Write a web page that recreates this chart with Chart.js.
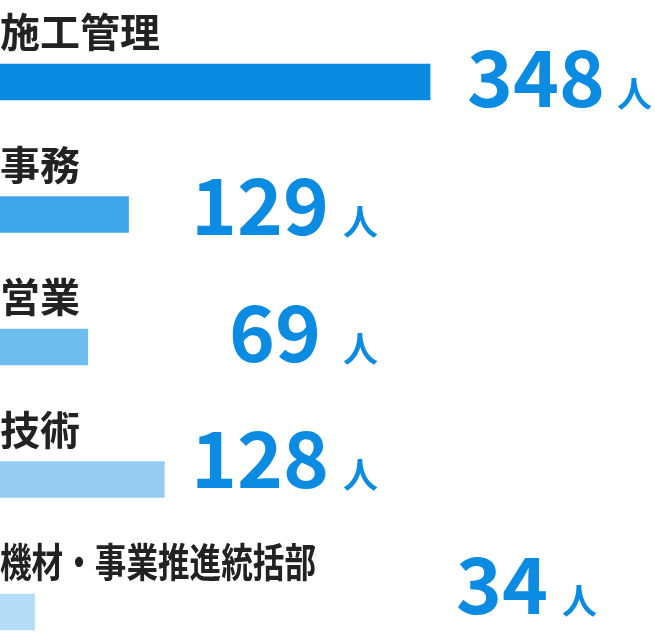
<!DOCTYPE html>
<html>
<head>
<meta charset="utf-8">
<script src="https://cdn.jsdelivr.net/npm/chart.js@4/dist/chart.umd.min.js"></script>
<style>
  html, body { margin: 0; padding: 0; background: #fff; }
  #wrap { position: relative; width: 655px; height: 640px; }
</style>
</head>
<body>
<div id="wrap"><canvas id="barChart"></canvas></div>
<script>
// DATA
const departments = ["施工管理", "事務", "営業", "技術", "機材・事業推進統括部"];
const headcount = [348, 129, 69, 128, 34];
// bar lengths as drawn in the picture (same units as headcount, not strictly proportional)
const barLength = [348, 104, 71, 133, 28];

// STYLE
const barColors = ["#0a8ae0", "#3fa6ea", "#6fbcef", "#96ccf1", "#b4dcf6"];
const numColor = "#0b8ce2";
const labelColor = "#222222";
const fontFamily = '"Noto Sans CJK JP", "Noto Sans", sans-serif';
// where the "人" ends (right edge) and vertical offset of the number from bar centre
const unitRight = [652, 378, 378, 378, 597];
const numGap = [12, 14, 22, 14, 14];
const numOffset = [25, 20, 15, 8, 2];

// LABELS PLUGIN
const labelPlugin = {
    id: "rowLabels",
    afterDatasetsDraw(chart) {
        const ctx = chart.ctx;
        const meta = chart.getDatasetMeta(0);
        ctx.save();
        meta.data.forEach((bar, i) => {
            const top = bar.y - bar.height / 2;

            // category name above the bar
            ctx.font = "bold 40px " + fontFamily;
            ctx.fillStyle = labelColor;
            ctx.textAlign = "left";
            ctx.textBaseline = "alphabetic";
            const name = departments[i];
            if (name.length > 4) {
                ctx.fillText(name, 0, top - 17, 316);
            } else {
                ctx.fillText(name, 0, top - 17);
            }

            // value + 人
            const baseY = bar.y + numOffset[i];
            ctx.fillStyle = numColor;
            ctx.textAlign = "right";
            ctx.font = "bold 35px " + fontFamily;
            ctx.fillText("人", unitRight[i], baseY);
            const unitW = ctx.measureText("人").width;
            ctx.font = "bold 78px " + fontFamily;
            ctx.fillText(String(headcount[i]), unitRight[i] - unitW - numGap[i], baseY);
        });
        ctx.restore();
    }
};

// BAR CHART
const barChart = new Chart(document.getElementById("barChart"), {
    type: 'bar',
    data: {
        labels: departments,
        datasets: [{
            data: barLength,
            backgroundColor: barColors,
            barThickness: 36,
            borderWidth: 0,
            clip: false
        }]
    },
    options: {
        indexAxis: 'y',
        responsive: true,
        maintainAspectRatio: false,
        devicePixelRatio: 1,
        animation: false,
        layout: { padding: { top: 82, bottom: 28, left: 0, right: 0 } },
        plugins: {
            legend: { display: false },
            tooltip: { enabled: false }
        },
        scales: {
            x: { display: false, min: 0, max: 530 },
            y: { display: false, offset: false }
        }
    },
    plugins: [labelPlugin]
});
</script>
</body>
</html>
